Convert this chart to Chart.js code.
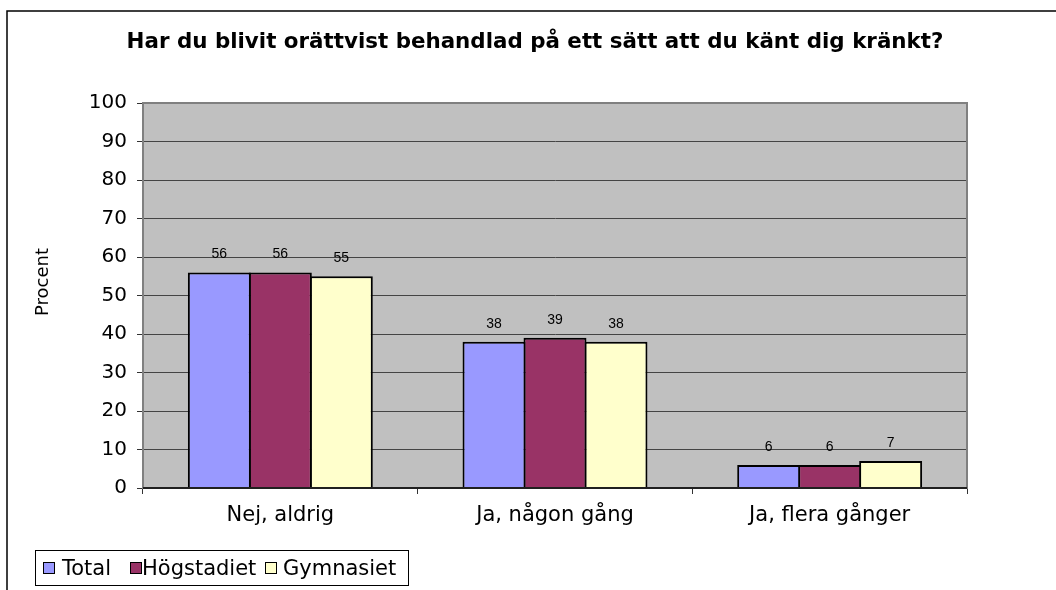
<!DOCTYPE html>
<html>
<head>
<meta charset="utf-8">
<script src="https://cdn.jsdelivr.net/npm/chart.js@4"></script>
<style>
  body { margin: 0; background: #fff; }
</style>
</head>
<body>
<canvas id="chart" width="1056" height="590"></canvas>
<script>
const title = 'Har du blivit orättvist behandlad på ett sätt att du känt dig kränkt?';
const categories = ['Nej, aldrig', 'Ja, någon gång', 'Ja, flera gånger'];
const seriesNames = ['Total', 'Högstadiet', 'Gymnasiet'];
const total = [56, 38, 6];
const hogstadiet = [56, 39, 6];
const gymnasiet = [55, 38, 7];
const yTicks = [0, 10, 20, 30, 40, 50, 60, 70, 80, 90, 100];
const colors = ['#9999FF', '#993366', '#FFFFCC'];

// plot background, outer frame, title, y title, legend, value labels
const decor = {
  id: 'decor',
  beforeDraw(chart) {
    const { ctx, chartArea: a } = chart;
    ctx.save();
    ctx.fillStyle = '#C0C0C0';
    ctx.fillRect(a.left, a.top, a.right - a.left, a.bottom - a.top);
    ctx.strokeStyle = '#000';
    ctx.lineWidth = 1.5;
    ctx.beginPath();
    ctx.moveTo(7, 600);
    ctx.lineTo(7, 11);
    ctx.lineTo(1060, 11);
    ctx.stroke();
    ctx.restore();
  },
  afterDraw(chart) {
    const { ctx, chartArea: a } = chart;
    ctx.save();
    ctx.strokeStyle = '#808080';
    ctx.lineWidth = 2;
    ctx.strokeRect(a.left, a.top, a.right - a.left, a.bottom - a.top);
    ctx.strokeStyle = '#000';
    ctx.lineWidth = 1.5;
    ctx.beginPath();
    ctx.moveTo(a.left, a.bottom);
    ctx.lineTo(a.right, a.bottom);
    ctx.stroke();

    ctx.fillStyle = '#000';
    ctx.font = 'bold 21.4px "DejaVu Sans"';
    ctx.textAlign = 'center';
    ctx.textBaseline = 'alphabetic';
    ctx.fillText(title, 535, 48);

    ctx.save();
    ctx.translate(48, 282);
    ctx.rotate(-Math.PI / 2);
    ctx.font = '18px "DejaVu Sans"';
    ctx.fillText('Procent', 0, 0);
    ctx.restore();

    // value labels
    ctx.font = '14px "Liberation Sans"';
    chart.data.datasets.forEach((ds, i) => {
      chart.getDatasetMeta(i).data.forEach((bar, j) => {
        ctx.fillText(String(ds.data[j]), bar.x, bar.y - 14);
      });
    });

    // legend
    ctx.lineWidth = 1;
    ctx.strokeStyle = '#000';
    ctx.strokeRect(35.5, 550.5, 373, 35);
    ctx.font = '21px "DejaVu Sans"';
    ctx.textAlign = 'left';
    const sw = [43, 130, 265];
    const tx = [62, 142, 283];
    chart.data.datasets.forEach((ds, i) => {
      ctx.fillStyle = ds.backgroundColor;
      ctx.fillRect(sw[i], 562, 11, 11);
      ctx.strokeRect(sw[i] + 0.5, 562.5, 11, 11);
      ctx.fillStyle = '#000';
      ctx.fillText(ds.label, tx[i], 575);
    });
    ctx.restore();
  }
};

new Chart(document.getElementById('chart'), {
  type: 'bar',
  data: {
    labels: categories,
    datasets: [total, hogstadiet, gymnasiet].map((d, i) => ({
      label: seriesNames[i],
      data: d,
      backgroundColor: colors[i],
      borderColor: '#000',
      borderWidth: 2,
      barPercentage: 1.033,
      categoryPercentage: 0.666
    }))
  },
  options: {
    responsive: false,
    animation: false,
    layout: { padding: { left: 0, top: 103, right: 89, bottom: 0 } },
    plugins: { legend: { display: false }, title: { display: false }, tooltip: { enabled: false } },
    scales: {
      x: {
        afterFit: (s) => { s.height = 102; },
        grid: { drawOnChartArea: false, tickLength: 6, color: '#333', offset: true },
        border: { color: '#000', width: 1.5 },
        ticks: { color: '#000', font: { family: 'DejaVu Sans', size: 21 }, padding: 9 }
      },
      y: {
        min: 0,
        max: 100,
        afterFit: (s) => { s.width = 143; },
        afterBuildTicks: (s) => { s.ticks = yTicks.map((v) => ({ value: v })); },
        grid: { color: '#444', lineWidth: 1, tickLength: 6, tickColor: '#333' },
        border: { color: '#555', width: 2 },
        ticks: { color: '#000', font: { family: 'DejaVu Sans', size: 20 }, padding: 10 }
      }
    }
  },
  plugins: [decor]
});
</script>
</body>
</html>
